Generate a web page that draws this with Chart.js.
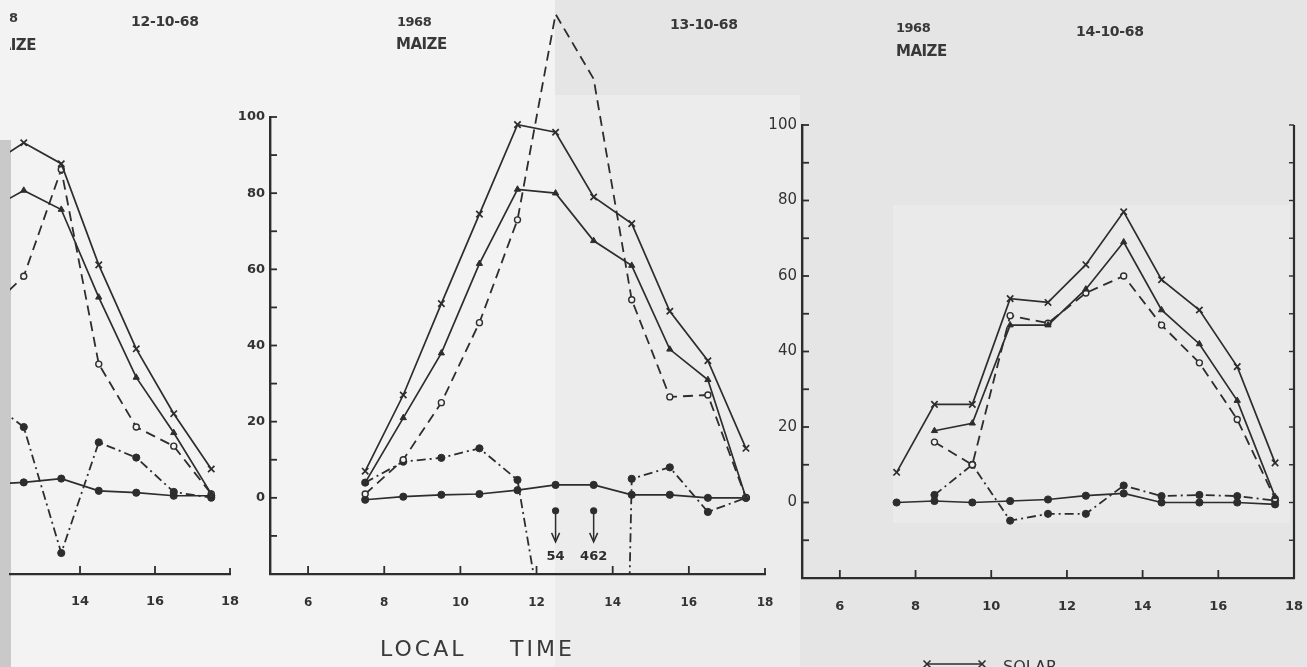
<!DOCTYPE html>
<html>
<head>
<meta charset="utf-8">
<script src="https://cdn.jsdelivr.net/npm/chart.js@4.4.1/dist/chart.umd.min.js"></script>
<style>
  html, body { margin: 0; padding: 0; width: 1307px; height: 667px; overflow: hidden; background: #e5e5e5; font-family: "DejaVu Sans", sans-serif; }
  .bg { position: absolute; }
  canvas { position: absolute; top: 0; }
  .t { position: absolute; font-weight: bold; color: #383838; white-space: nowrap; line-height: 1; }
  .clipbox { position: absolute; overflow: hidden; }
  .axis-title { position: absolute; font-size: 22px; letter-spacing: 3px; color: #3a3a3a; line-height: 1; white-space: nowrap; }
</style>
</head>
<body>
<!-- paper tones -->
<div class="bg" style="left:0;top:0;width:555px;height:667px;background:#f3f3f3"></div>
<div class="bg" style="left:555px;top:95px;width:245px;height:572px;background:#ececec"></div>
<div class="bg" style="left:893px;top:205px;width:397px;height:318px;background:#eaeaea"></div>
<div class="bg" style="left:0;top:140px;width:11px;height:527px;background:#c9c9c9"></div>

<canvas id="day12"></canvas>
<canvas id="day13"></canvas>
<canvas id="day14"></canvas>

<!-- panel headings -->
<div class="clipbox" style="left:10px;top:0;width:240px;height:130px">
  <div class="t" style="right:232px;top:11px;font-size:13px">1968</div>
  <div class="t" style="right:214px;top:38px;font-size:15px;letter-spacing:-0.5px">MAIZE</div>
</div>
<div class="t" style="left:131px;top:14px;font-size:14px;letter-spacing:-0.3px">12-10-68</div>

<div class="t" style="left:397px;top:15px;font-size:13px;letter-spacing:-0.5px">1968</div>
<div class="t" style="left:396px;top:37px;font-size:15px;letter-spacing:-0.5px">MAIZE</div>
<div class="t" style="left:670px;top:17px;font-size:14px;letter-spacing:-0.3px">13-10-68</div>

<div class="t" style="left:896px;top:21px;font-size:13px;letter-spacing:-0.5px">1968</div>
<div class="t" style="left:896px;top:44px;font-size:15px;letter-spacing:-0.5px">MAIZE</div>
<div class="t" style="left:1076px;top:24px;font-size:14px;letter-spacing:-0.3px">14-10-68</div>

<div class="axis-title" style="left:380px;top:638px">LOCAL</div>
<div class="axis-title" style="left:510px;top:638px">TIME</div>

<script>
// Hourly readings (local time, half-hour centred), % scale
const TIMES = [7.5, 8.5, 9.5, 10.5, 11.5, 12.5, 13.5, 14.5, 15.5, 16.5, 17.5];
const TIMES_12 = [11.5, 12.5, 13.5, 14.5, 15.5, 16.5, 17.5];

const X_TICKS = [6, 8, 10, 12, 14, 16, 18];
const Y_TICKS = [-20, -10, 0, 10, 20, 30, 40, 50, 60, 70, 80, 90, 100];
const Y_LABELS = [0, 20, 40, 60, 80, 100];

// 12-10-68
const solar12    = [86.5, 93, 87.5, 61, 39, 22, 7.5];
const net12      = [75, 80.5, 75.5, 52.5, 31.5, 17, 1];
const latent12   = [48.5, 58, 86, 35, 18.5, 13.5, 1];
const sensible12 = [26, 18.5, -14.5, 14.5, 10.5, 1.5, 0];
const soil12     = [3.5, 4, 5, 1.8, 1.3, 0.5, 0.5];

// 13-10-68
const solar13    = [7, 27, 51, 74.5, 98, 96, 79, 72, 49, 36, 13];
const net13      = [4, 21, 38, 61.5, 81, 80, 67.5, 61, 39, 31, 0];
const latent13   = [1, 10, 25, 46, 73, 127, 110, 52, 26.5, 27, 0];
const sensible13 = [4, 9.5, 10.5, 13, 4.7, -54, -462, 5, 8, -3.7, 0];
const soil13     = [-0.5, 0.3, 0.8, 1, 2, 3.4, 3.4, 0.8, 0.8, 0, 0];

// 14-10-68
const solar14    = [8, 26, 26, 54, 53, 63, 77, 59, 51, 36, 10.5];
const net14      = [null, 19, 21, 47, 47, 56.5, 69, 51, 42, 27, 1.5];
const latent14   = [null, 16, 10, 49.5, 47.5, 55.5, 60, 47, 37, 22, 1];
const sensible14 = [null, 2, 10, -4.8, -3, -3, 4.5, 1.7, 2, 1.7, 0.5];
const soil14     = [0, 0.4, 0, 0.4, 0.8, 1.8, 2.4, 0, 0, 0, -0.5];

const INK = '#2d2d2d';
const PAPER = '#f2f2f2';
const CLIP = { left: 0, top: false, right: 8, bottom: 0 };

function pairs(times, values) {
  const out = [];
  times.forEach((t, i) => { if (values[i] !== null) out.push({ x: t, y: values[i] }); });
  return out;
}

function seriesSet(times, solar, net, latent, sensible, soil) {
  const base = { borderColor: INK, pointBorderColor: INK, fill: false, tension: 0, clip: CLIP };
  return [
    { ...base, label: 'SOLAR', data: pairs(times, solar), borderWidth: 1.7,
      pointStyle: 'crossRot', pointRadius: 4.5, pointBorderWidth: 1.7, pointBackgroundColor: INK },
    { ...base, label: 'net', data: pairs(times, net), borderWidth: 1.7,
      pointStyle: 'triangle', pointRadius: 3.6, pointBorderWidth: 1, pointBackgroundColor: INK },
    { ...base, label: 'latent', data: pairs(times, latent), borderWidth: 1.8, borderDash: [10, 6],
      pointStyle: 'circle', pointRadius: 3, pointBorderWidth: 1.4, pointBackgroundColor: PAPER },
    { ...base, label: 'sensible', data: pairs(times, sensible), borderWidth: 1.8, borderDash: [9, 4, 2, 4],
      pointStyle: 'circle', pointRadius: 3.6, pointBorderWidth: 1, pointBackgroundColor: INK, offScale: true },
    { ...base, label: 'soil', data: pairs(times, soil), borderWidth: 1.7,
      pointStyle: 'circle', pointRadius: 3.6, pointBorderWidth: 1, pointBackgroundColor: INK }
  ];
}

function seg(ctx, x1, y1, x2, y2) { ctx.beginPath(); ctx.moveTo(x1, y1); ctx.lineTo(x2, y2); ctx.stroke(); }

// Tick marks drawn on the inside of the frame, plus the right-hand frame line
const frameTicks = {
  id: 'frameTicks',
  afterDraw(chart, args, o) {
    const { ctx, chartArea: a, scales: { x, y } } = chart;
    ctx.save();
    ctx.strokeStyle = INK;
    ctx.lineWidth = 1.8;
    if (o.yTicks) {
      for (const t of y.ticks) {
        if (t.value <= y.min) continue;
        const py = y.getPixelForValue(t.value);
        seg(ctx, a.left, py, a.left + 7, py);
      }
    }
    for (const t of x.ticks) {
      const px = x.getPixelForValue(t.value);
      if (t.value === x.max) { if (o.endTick) seg(ctx, px, a.bottom, px, a.bottom - 6); continue; }
      seg(ctx, px, a.bottom, px, a.bottom - 8);
    }
    if (o.rightFrame) {
      ctx.lineWidth = 2.2;
      seg(ctx, a.right, y.getPixelForValue(100), a.right, a.bottom + 1);
      ctx.lineWidth = 1.4;
      for (const t of y.ticks) {
        if (t.value <= y.min) continue;
        const py = y.getPixelForValue(t.value);
        seg(ctx, a.right - 5, py, a.right, py);
      }
    }
    ctx.restore();
  }
};

// Values below the frame are flagged with a dot, a downward arrow and the value
const offScaleFlags = {
  id: 'offScaleFlags',
  afterDatasetsDraw(chart) {
    const { ctx, scales: { x, y } } = chart;
    const y0 = y.getPixelForValue(0);
    chart.data.datasets.forEach(ds => {
      if (!ds.offScale) return;
      ds.data.forEach(p => {
        if (p.y >= y.min) return;
        const px = x.getPixelForValue(p.x);
        ctx.save();
        ctx.fillStyle = INK; ctx.strokeStyle = INK; ctx.lineWidth = 1.5;
        ctx.beginPath(); ctx.arc(px, y0 + 13, 3.6, 0, Math.PI * 2); ctx.fill();
        seg(ctx, px, y0 + 13, px, y0 + 42);
        ctx.beginPath();
        ctx.moveTo(px - 4, y0 + 35); ctx.lineTo(px, y0 + 44); ctx.lineTo(px + 4, y0 + 35);
        ctx.stroke();
        ctx.font = 'bold 13px "DejaVu Sans"';
        ctx.textAlign = 'center'; ctx.textBaseline = 'alphabetic';
        ctx.fillText(String(Math.abs(p.y)), px, y0 + 62);
        ctx.restore();
      });
    });
  }
};

// Key for the solar series
const solarKey = {
  id: 'solarKey',
  afterDraw(chart, args, o) {
    if (!o.show) return;
    const { ctx } = chart;
    const x1 = o.x, x2 = o.x + 55, yy = o.y;
    ctx.save();
    ctx.strokeStyle = INK; ctx.fillStyle = '#333'; ctx.lineWidth = 1.6;
    seg(ctx, x1, yy, x2, yy);
    for (const cx of [x1, x2]) { seg(ctx, cx - 3.5, yy - 3.5, cx + 3.5, yy + 3.5); seg(ctx, cx - 3.5, yy + 3.5, cx + 3.5, yy - 3.5); }
    ctx.font = '16px "DejaVu Sans"';
    ctx.textBaseline = 'alphabetic';
    ctx.fillText(chart.data.datasets[0].label, x2 + 21, yy + 8);
    ctx.restore();
  }
};

function panel(id, rect, area, xMin, datasets, o) {
  const canvas = document.getElementById(id);
  canvas.width = rect.w; canvas.height = rect.h;
  canvas.style.left = rect.x + 'px';
  const yW = o.showY ? 40 : 0;
  const xH = 50;
  const padding = {
    left: area.l - rect.x - yW,
    top: area.t,
    right: rect.x + rect.w - area.r,
    bottom: rect.h - area.b - xH
  };
  return new Chart(canvas, {
    type: 'line',
    data: { datasets },
    options: {
      responsive: false,
      animation: false,
      events: [],
      layout: { padding },
      plugins: {
        legend: { display: false },
        tooltip: { enabled: false },
        frameTicks: { yTicks: o.showY, rightFrame: o.rightFrame, endTick: o.endTick },
        solarKey: o.key || { show: false }
      },
      scales: {
        x: {
          type: 'linear', min: xMin, max: 18,
          afterBuildTicks: s => { s.ticks = X_TICKS.filter(v => v >= xMin).map(v => ({ value: v })); },
          afterFit: s => { s.height = xH; },
          grid: { display: false, drawTicks: false },
          border: { display: true, color: INK, width: 2.2 },
          ticks: { autoSkip: false, maxRotation: 0, padding: o.xPad, color: '#333',
                   font: { family: 'DejaVu Sans', size: o.xSize, weight: 'bold' },
                   callback: v => String(v) }
        },
        y: {
          display: o.showY, min: -20, max: 100,
          afterBuildTicks: s => { s.ticks = Y_TICKS.map(v => ({ value: v })); },
          afterFit: s => { s.width = yW; },
          grid: { display: false, drawTicks: false },
          border: { display: true, color: INK, width: 2.4 },
          ticks: { autoSkip: false, padding: 5, color: '#333',
                   font: { family: 'DejaVu Sans', size: o.ySize, weight: o.yWeight },
                   callback: v => Y_LABELS.includes(v) ? String(v) : '' }
        }
      }
    },
    plugins: [frameTicks, offScaleFlags, solarKey]
  });
}

// canvases reach past each frame's right edge so the last tick label never squeezes the plot
panel('day12', { x: 0, w: 275, h: 667 }, { l: 10, t: 116, r: 230, b: 574 }, 12.133,
  seriesSet(TIMES_12, solar12, net12, latent12, sensible12, soil12),
  { showY: false, endTick: true, xPad: 20, xSize: 13 });

panel('day13', { x: 222, w: 585, h: 667 }, { l: 270, t: 117, r: 765, b: 574 }, 5,
  seriesSet(TIMES, solar13, net13, latent13, sensible13, soil13),
  { showY: true, endTick: true, xPad: 22, xSize: 12, ySize: 13, yWeight: 'bold' });

panel('day14', { x: 758, w: 585, h: 667 }, { l: 802, t: 125, r: 1294, b: 578 }, 5,
  seriesSet(TIMES, solar14, net14, latent14, sensible14, soil14),
  { showY: true, rightFrame: true, xPad: 21, xSize: 13, ySize: 15, yWeight: 'normal',
    key: { show: true, x: 927 - 758, y: 664 } });
</script>
</body>
</html>
